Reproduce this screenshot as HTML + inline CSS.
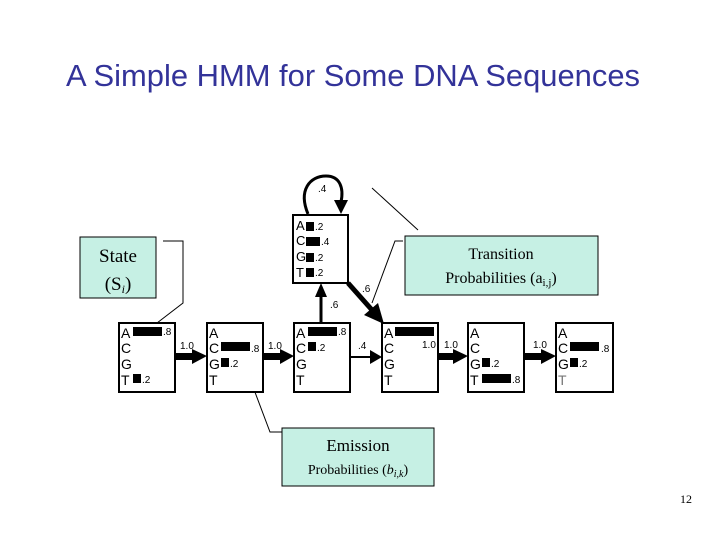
<!DOCTYPE html>
<html><head><style>
body{margin:0;background:#fff;}
svg text{font-family:"Liberation Sans",sans-serif;}
.s{font-family:"Liberation Serif",serif;}
</style></head><body>
<svg width="720" height="540" viewBox="0 0 720 540" xmlns="http://www.w3.org/2000/svg">
<text x="353" y="86" text-anchor="middle" font-size="31" fill="#333399" textLength="574" lengthAdjust="spacingAndGlyphs">A Simple HMM for Some DNA Sequences</text>

<rect x="80" y="237" width="76" height="61" fill="#c6f0e4" stroke="#000" stroke-width="1"/>
<text class="s" x="118" y="262" text-anchor="middle" font-size="19">State</text>
<text class="s" x="118" y="290" text-anchor="middle" font-size="19">(S<tspan font-style="italic" font-size="12" dy="3">i</tspan><tspan dy="-3">)</tspan></text>
<rect x="405" y="236" width="193" height="59" fill="#c6f0e4" stroke="#000" stroke-width="1"/>
<text class="s" x="501" y="259" text-anchor="middle" font-size="16">Transition</text>
<text class="s" x="501" y="283" text-anchor="middle" font-size="16">Probabilities (a<tspan font-size="11" dy="3">i,j</tspan><tspan dy="-3">)</tspan></text>
<rect x="282" y="428" width="152" height="58" fill="#c6f0e4" stroke="#000" stroke-width="1"/>
<text class="s" x="358" y="451" text-anchor="middle" font-size="17">Emission</text>
<text class="s" x="358" y="474" text-anchor="middle" font-size="14">Probabilities (<tspan font-style="italic">b</tspan><tspan font-size="10" font-style="italic" dy="3">i,k</tspan><tspan dy="-3">)</tspan></text>

<polyline points="163,241 183,241 183,303 157,323" fill="none" stroke="#000" stroke-width="1"/>
<line x1="372" y1="188" x2="418" y2="230" stroke="#000" stroke-width="1"/>
<polyline points="403,241 395,241 372,303" fill="none" stroke="#000" stroke-width="1"/>
<polyline points="244,363 270,432 282,432" fill="none" stroke="#000" stroke-width="1"/>

<path d="M308,214 C298,190 310,176 326,176 C340,176 344,188 341,202" fill="none" stroke="#000" stroke-width="3"/>
<polygon points="334,200 348,200 341,214" fill="#000"/>
<text x="318" y="192" font-size="10">.4</text>

<rect x="293" y="215" width="55" height="68" fill="#fff" stroke="#000" stroke-width="2"/>
<g font-size="13"><text x="296" y="230">A</text><text x="296" y="245">C</text><text x="296" y="261">G</text><text x="296" y="277">T</text></g>
<rect x="306" y="222" width="8" height="9"/><rect x="306" y="237" width="14" height="9"/><rect x="306" y="253" width="8" height="9"/><rect x="306" y="268" width="8" height="9"/>
<g font-size="10"><text x="315" y="230">.2</text><text x="321" y="245">.4</text><text x="315" y="261">.2</text><text x="315" y="276">.2</text></g>

<line x1="321" y1="323" x2="321" y2="296" stroke="#000" stroke-width="3"/>
<polygon points="315,297 327,297 321,283" fill="#000"/>
<text x="330" y="308" font-size="10">.6</text>
<line x1="348" y1="283" x2="372" y2="310" stroke="#000" stroke-width="5"/>
<polygon points="364,315 378,303 384,324" fill="#000"/>
<text x="362" y="292" font-size="10">.6</text>

<g stroke="#000" stroke-width="2" fill="#fff">
<rect x="119" y="323" width="56" height="69"/><rect x="207" y="323" width="56" height="69"/>
<rect x="294" y="323" width="56" height="69"/><rect x="382" y="323" width="56" height="69"/>
<rect x="468" y="323" width="56" height="69"/><rect x="556" y="323" width="57" height="69"/>
</g>
<g font-size="14">
<text x="121" y="338">A</text><text x="121" y="353">C</text><text x="121" y="369">G</text><text x="121" y="385">T</text>
<text x="209" y="338">A</text><text x="209" y="353">C</text><text x="209" y="369">G</text><text x="209" y="385">T</text>
<text x="296" y="338">A</text><text x="296" y="353">C</text><text x="296" y="369">G</text><text x="296" y="385">T</text>
<text x="384" y="338">A</text><text x="384" y="353">C</text><text x="384" y="369">G</text><text x="384" y="385">T</text>
<text x="470" y="338">A</text><text x="470" y="353">C</text><text x="470" y="369">G</text><text x="470" y="385">T</text>
<text x="558" y="338">A</text><text x="558" y="353">C</text><text x="558" y="369">G</text><text x="558" y="385" fill="#777">T</text>
</g>
<g fill="#000">
<rect x="133" y="327" width="29" height="9"/><rect x="133" y="374" width="8" height="9"/>
<rect x="221" y="342" width="29" height="9"/><rect x="221" y="358" width="8" height="9"/>
<rect x="308" y="327" width="29" height="9"/><rect x="308" y="342" width="8" height="9"/>
<rect x="395" y="327" width="39" height="9"/>
<rect x="482" y="358" width="8" height="9"/><rect x="482" y="374" width="29" height="9"/>
<rect x="570" y="342" width="29" height="9"/><rect x="570" y="358" width="8" height="9"/>
</g>
<g font-size="10">
<text x="163" y="335">.8</text><text x="142" y="383">.2</text>
<text x="251" y="352">.8</text><text x="230" y="367">.2</text>
<text x="338" y="335">.8</text><text x="317" y="351">.2</text>
<text x="422" y="348">1.0</text>
<text x="491" y="367">.2</text><text x="512" y="383">.8</text>
<text x="601" y="352">.8</text><text x="579" y="367">.2</text>
</g>

<g fill="#000">
<rect x="175" y="353" width="18" height="7"/><polygon points="192,349 192,364 207,356"/>
<rect x="263" y="353" width="18" height="7"/><polygon points="280,349 280,364 294,356"/>
<rect x="350" y="356" width="22" height="2"/><polygon points="370,350 370,364 382,357"/>
<rect x="438" y="353" width="16" height="7"/><polygon points="453,349 453,364 468,356"/>
<rect x="524" y="353" width="18" height="7"/><polygon points="541,349 541,364 556,356"/>
</g>
<g font-size="10">
<text x="180" y="349">1.0</text><text x="268" y="349">1.0</text><text x="358" y="349">.4</text>
<text x="444" y="348">1.0</text><text x="533" y="348">1.0</text>
</g>

<text class="s" x="692" y="503" text-anchor="end" font-size="12">12</text>
</svg>
</body></html>
